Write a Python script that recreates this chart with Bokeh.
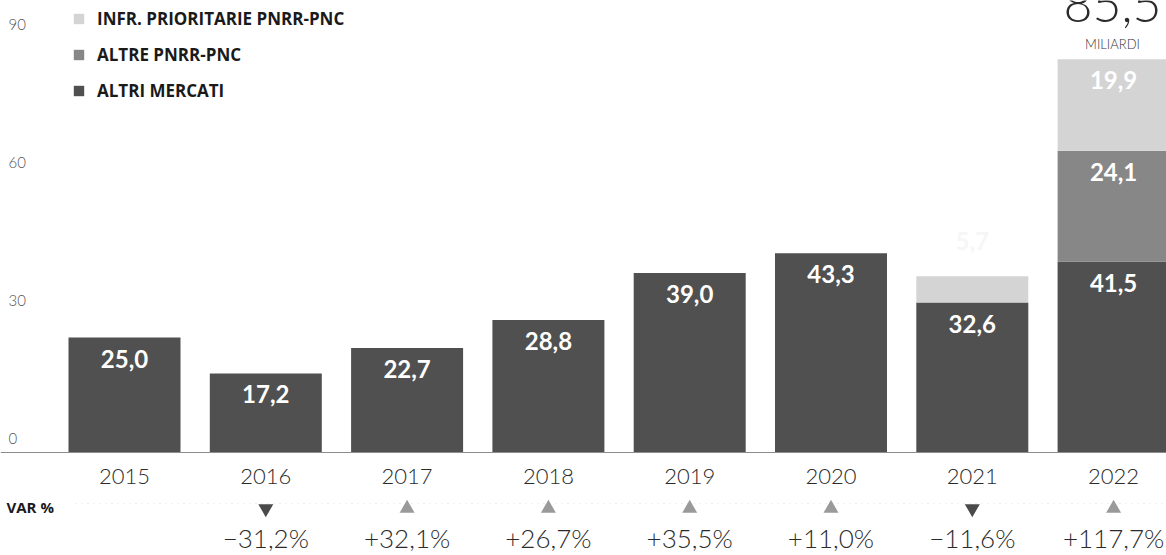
from bokeh.plotting import figure
from bokeh.models import ColumnDataSource, Range1d, Legend, LegendItem, Span
from bokeh.core.properties import value
from bokeh.embed import file_html
from bokeh.resources import INLINE

# ---------------- data ----------------
years = ["2015", "2016", "2017", "2018", "2019", "2020", "2021", "2022"]
altri_mercati = [25.0, 17.2, 22.7, 28.8, 39.0, 43.3, 32.6, 41.5]
altre_pnrr_pnc = [0.0, 0.0, 0.0, 0.0, 0.0, 0.0, 0.0, 24.1]
infr_prioritarie = [0.0, 0.0, 0.0, 0.0, 0.0, 0.0, 5.7, 19.9]
var_pct = [None, -31.2, 32.1, 26.7, 35.5, 11.0, -11.6, 117.7]
y_ticks = [0, 30, 60, 90]
series_names = ["ALTRI MERCATI", "ALTRE PNRR-PNC", "INFR. PRIORITARIE PNRR-PNC"]
total_last = "85,5"
unit_label = "MILIARDI"
var_title = "VAR %"

# ---------------- styling ----------------
W, H = 1166, 555
PX = 4.6            # pixels per data unit (vertical)
BASE = 452          # pixel row of value 0
STEP = 141.3        # pixels between categories
X0 = 124            # pixel column of first category
colors = ["#505050", "#878787", "#d4d4d4"]
LIGHT = value("Lato Light")
BOLD = value("Lato")


def ypx(py):
    return (BASE - py) / PX


def xpx(px):
    return (px - X0) / STEP


def fmt(v):
    return f"{v:.1f}".replace(".", ",")


x = list(range(len(years)))
src = ColumnDataSource(dict(x=x, altri=altri_mercati, altre=altre_pnrr_pnc,
                            infr=infr_prioritarie))

p = figure(width=W, height=H, output_backend="svg", toolbar_location=None,
           x_range=Range1d(xpx(0), xpx(W)), y_range=Range1d(ypx(H), ypx(0)),
           min_border=0, outline_line_color=None, background_fill_color="white",
           border_fill_color="white")
p.axis.visible = False
p.grid.visible = False

rs = p.vbar_stack(["altri", "altre", "infr"], x="x", width=112 / STEP,
                  color=colors, line_color=None, source=src)

# baseline
p.add_layout(Span(location=0, dimension="width", line_color="#8c8c8c", line_width=1))

# y tick labels (placed above their value line, inside the plot)
p.text(x=[xpx(8)] * len(y_ticks), y=[t + 14 / PX for t in y_ticks],
       text=[str(t) for t in y_ticks], text_font=LIGHT, text_font_size="15px",
       text_color="#555555", text_align="left", text_baseline="middle")

# segment labels
lx, ly, lt, lc = [], [], [], []
for i in x:
    bottom = 0.0
    for vals in (altri_mercati, altre_pnrr_pnc, infr_prioritarie):
        v = vals[i]
        if v > 0:
            top = bottom + v
            if v < 8:
                lx.append(i); ly.append(top + 7.7); lt.append(fmt(v)); lc.append("#f6f6f6")
            else:
                lx.append(i); ly.append(top - 21 / PX); lt.append(fmt(v)); lc.append("white")
            bottom = top
p.text(x=lx, y=ly, text=lt, text_color=lc, text_font=BOLD, text_font_style="bold",
       text_font_size="24px", text_align="center", text_baseline="middle")

# year labels
p.text(x=x, y=[ypx(476)] * len(x), text=years, text_font=LIGHT, text_font_size="22px",
       text_color="#2b2b2b", text_align="center", text_baseline="middle")

# VAR % row
p.line([xpx(75), xpx(W)], [ypx(503)] * 2, line_color="#e0e0e0", line_dash="1 5", line_width=1)
p.text(x=[xpx(6)], y=[ypx(506)], text=[var_title], text_font=value("Open Sans"),
       text_font_style="bold", text_font_size="15px", text_color="#1a1a1a",
       text_align="left", text_baseline="middle")
vx = [i for i in x if var_pct[i] is not None]
up = [i for i in vx if var_pct[i] > 0]
down = [i for i in vx if var_pct[i] < 0]
p.scatter(up, [ypx(508)] * len(up), marker="triangle", size=15, color="#9a9a9a", line_color=None)
p.scatter(down, [ypx(508)] * len(down), marker="inverted_triangle", size=15, color="#4a4a4a",
          line_color=None)
ptxt = [("+" if var_pct[i] > 0 else "−") + fmt(abs(var_pct[i])) + "%" for i in vx]
p.text(x=vx, y=[ypx(537)] * len(vx), text=ptxt, text_font=LIGHT, text_font_size="26px",
       text_color="#2b2b2b", text_align="center", text_baseline="middle")

# total and unit (top right) - total partially cut by the top edge as in the source
p.text(x=[xpx(1112)], y=[ypx(4)], text=[total_last], text_font=LIGHT, text_font_size="50px",
       text_color="#2b2b2b", text_align="center", text_baseline="alphabetic")
p.text(x=[xpx(1112)], y=[ypx(43)], text=[unit_label], text_font=LIGHT, text_font_size="13px",
       text_color="#333333", text_align="center", text_baseline="middle")

# legend
items = [LegendItem(label=series_names[k], renderers=[rs[k]]) for k in (2, 1, 0)]
legend = Legend(items=items, location=(72, H - 102), orientation="vertical",
                padding=0, margin=0, spacing=13, glyph_width=13, glyph_height=13,
                label_height=17, label_standoff=12, label_text_font="Open Sans",
                label_text_font_style="bold", label_text_font_size="17px",
                label_text_color="#1a1a1a", border_line_color=None,
                background_fill_alpha=0)
p.add_layout(legend)

open("out.html", "w").write(file_html(p, INLINE))
